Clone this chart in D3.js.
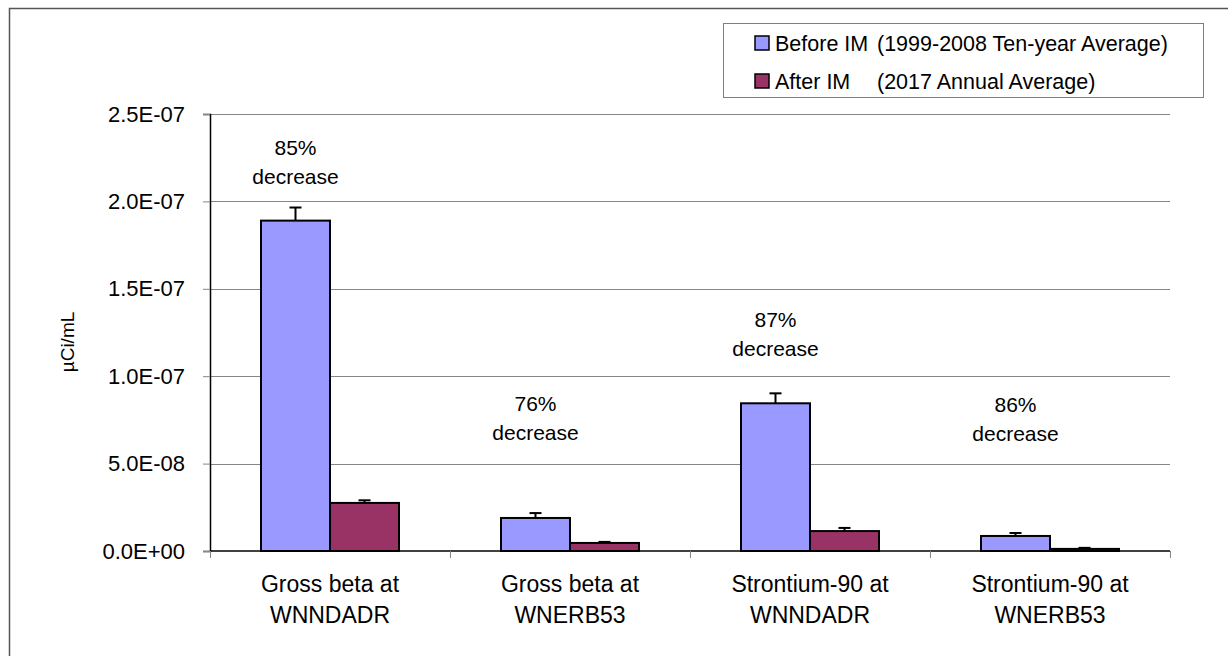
<!DOCTYPE html>
<html>
<head>
<meta charset="utf-8">
<script src="https://cdn.jsdelivr.net/npm/d3@7"></script>
<style>
  html, body { margin: 0; padding: 0; background: #fff; }
  svg { display: block; font-family: 'Liberation Sans', Arial, sans-serif; }
</style>
</head>
<body>
<script>
const CATEGORIES = [
  ['Gross beta at', 'WNNDADR'],
  ['Gross beta at', 'WNERB53'],
  ['Strontium-90 at', 'WNNDADR'],
  ['Strontium-90 at', 'WNERB53']
]
const SERIES_NAMES = ['Before IM', 'After IM']
const SERIES_PERIODS = ['(1999-2008 Ten-year Average)', '(2017 Annual Average)']
const BEFORE_VALUES = [1.89e-7, 1.89e-8, 8.45e-8, 8.6e-9]
const BEFORE_ERRORS = [7.5e-9, 2.8e-9, 5.7e-9, 1.7e-9]
const AFTER_VALUES = [2.75e-8, 4.6e-9, 1.14e-8, 1.2e-9]
const AFTER_ERRORS = [1.5e-9, 0.6e-9, 1.8e-9, 0.6e-9]
const DECREASE_LABELS = ['85%', '76%', '87%', '86%']
const Y_TICKS = [0, 5e-8, 1e-7, 1.5e-7, 2e-7, 2.5e-7]
const Y_TITLE = 'µCi/mL'

const COLORS = ['#9999ff', '#993366']

const formatExp = d => {
  const [mantissa, exp] = d.toExponential(1).split('e')
  const sign = exp[0] === '-' ? '-' : '+'
  return `${mantissa}E${sign}${String(Math.abs(+exp)).padStart(2, '0')}`
}

const buildChart = () => {
  const SIZE = { WIDTH: 1228, HEIGHT: 656 },
    PLOT = { LEFT: 210, RIGHT: 1170, TOP: 114, BOTTOM: 551 },
    ANNOTATION_Y = [155, 411, 327, 412]

  const svg = d3.select('body').append('svg')
    .attr('width', SIZE.WIDTH)
    .attr('height', SIZE.HEIGHT)

  // outer frame (runs off the right/bottom edge)
  svg.append('rect')
    .attr('x', 9.5).attr('y', 8.5)
    .attr('width', SIZE.WIDTH).attr('height', SIZE.HEIGHT)
    .attr('fill', 'none')
    .attr('stroke', '#555')
    .attr('stroke-width', 1.5)

  const x0 = d3.scaleBand()
    .domain(d3.range(CATEGORIES.length))
    .range([PLOT.LEFT, PLOT.RIGHT])
  const x1 = d3.scaleBand()
    .domain(d3.range(SERIES_NAMES.length))
    .range([x0.bandwidth() * 0.2125, x0.bandwidth() * 0.7875])
  const y = d3.scaleLinear()
    .domain([0, 2.5e-7])
    .range([PLOT.BOTTOM, PLOT.TOP])

  // gridlines
  svg.append('g')
    .selectAll('line')
    .data(Y_TICKS.slice(1))
    .join('line')
    .attr('x1', PLOT.LEFT).attr('x2', PLOT.RIGHT)
    .attr('y1', d => Math.round(y(d)) + 0.5).attr('y2', d => Math.round(y(d)) + 0.5)
    .attr('stroke', '#868686')
    .attr('stroke-width', 1)

  // y axis
  const yAxis = svg.append('g')
    .attr('transform', `translate(${PLOT.LEFT},0)`)
    .call(d3.axisLeft(y).tickValues(Y_TICKS).tickFormat(formatExp).tickSize(7).tickPadding(18))
  yAxis.select('.domain').attr('stroke', '#000').attr('stroke-width', 1.5)
  yAxis.selectAll('.tick line').attr('stroke', '#868686')
  yAxis.selectAll('.tick text')
    .attr('font-size', 22)
    .attr('fill', '#000')
    .attr('font-family', "'Liberation Sans', Arial, sans-serif")

  svg.append('text')
    .attr('transform', 'translate(74,342) rotate(-90)')
    .attr('text-anchor', 'middle')
    .attr('font-size', 19)
    .text(Y_TITLE)

  // bars
  const rows = CATEGORIES.map((c, i) => [
    { cat: i, s: 0, value: BEFORE_VALUES[i], err: BEFORE_ERRORS[i] },
    { cat: i, s: 1, value: AFTER_VALUES[i], err: AFTER_ERRORS[i] }
  ]).flat()

  const bars = svg.append('g')
  bars.selectAll('line')
    .data(rows)
    .join('line')
    .attr('x1', d => x0(d.cat) + x1(d.s) + x1.bandwidth() / 2)
    .attr('x2', d => x0(d.cat) + x1(d.s) + x1.bandwidth() / 2)
    .attr('y1', d => y(d.value))
    .attr('y2', d => y(d.value + d.err))
    .attr('stroke', '#000')
    .attr('stroke-width', 2)
  bars.selectAll('path.cap')
    .data(rows)
    .join('path')
    .attr('class', 'cap')
    .attr('d', d => {
      const cx = x0(d.cat) + x1(d.s) + x1.bandwidth() / 2
      return `M${cx - 6},${y(d.value + d.err)}H${cx + 6}`
    })
    .attr('stroke', '#000')
    .attr('stroke-width', 2)
  bars.selectAll('rect')
    .data(rows)
    .join('rect')
    .attr('x', d => x0(d.cat) + x1(d.s))
    .attr('y', d => y(d.value))
    .attr('width', x1.bandwidth())
    .attr('height', d => y(0) - y(d.value))
    .attr('fill', d => COLORS[d.s])
    .attr('stroke', '#000')
    .attr('stroke-width', 2)

  // x axis
  svg.append('line')
    .attr('x1', PLOT.LEFT).attr('x2', PLOT.RIGHT)
    .attr('y1', PLOT.BOTTOM).attr('y2', PLOT.BOTTOM)
    .attr('stroke', '#000')
    .attr('stroke-width', 1.5)
  svg.append('g')
    .selectAll('line')
    .data(d3.range(CATEGORIES.length + 1))
    .join('line')
    .attr('x1', i => (i < CATEGORIES.length ? x0(i) : PLOT.RIGHT) + 0.5)
    .attr('x2', i => (i < CATEGORIES.length ? x0(i) : PLOT.RIGHT) + 0.5)
    .attr('y1', PLOT.BOTTOM).attr('y2', PLOT.BOTTOM + 7)
    .attr('stroke', '#868686')

  const xLabels = svg.append('g')
    .selectAll('text')
    .data(CATEGORIES)
    .join('text')
    .attr('text-anchor', 'middle')
    .attr('font-size', 23)
  xLabels.selectAll('tspan')
    .data((d, i) => d.map(line => ({ line, i })))
    .join('tspan')
    .attr('x', d => x0(d.i) + x0.bandwidth() / 2)
    .attr('y', (d, j) => 592 + j * 31)
    .text(d => d.line)

  // percent-decrease annotations
  const notes = svg.append('g')
    .selectAll('text')
    .data(DECREASE_LABELS)
    .join('text')
    .attr('text-anchor', 'middle')
    .attr('font-size', 21)
  notes.selectAll('tspan')
    .data((d, i) => [d, 'decrease'].map(line => ({ line, i })))
    .join('tspan')
    .attr('x', d => x0(d.i) + x1(0) + x1.bandwidth() / 2)
    .attr('y', (d, j) => ANNOTATION_Y[d.i] + j * 29)
    .text(d => d.line)

  // legend
  const legend = svg.append('g')
  legend.append('rect')
    .attr('x', 723.5).attr('y', 23.5)
    .attr('width', 480).attr('height', 74)
    .attr('fill', '#fff')
    .attr('stroke', '#7f7f7f')
  const item = legend.selectAll('g')
    .data(SERIES_NAMES)
    .join('g')
    .attr('transform', (d, i) => `translate(0,${43 + i * 38})`)
  item.append('rect')
    .attr('x', 755).attr('y', -7)
    .attr('width', 14).attr('height', 14)
    .attr('fill', (d, i) => COLORS[i])
    .attr('stroke', '#000')
    .attr('stroke-width', 1.5)
  item.append('text')
    .attr('x', 775).attr('dy', '0.36em')
    .attr('font-size', 21.5)
    .text(d => d)
  item.append('text')
    .attr('x', 877).attr('dy', '0.36em')
    .attr('font-size', 21.5)
    .text((d, i) => SERIES_PERIODS[i])
}

document.addEventListener('DOMContentLoaded', buildChart)
</script>
</body>
</html>
